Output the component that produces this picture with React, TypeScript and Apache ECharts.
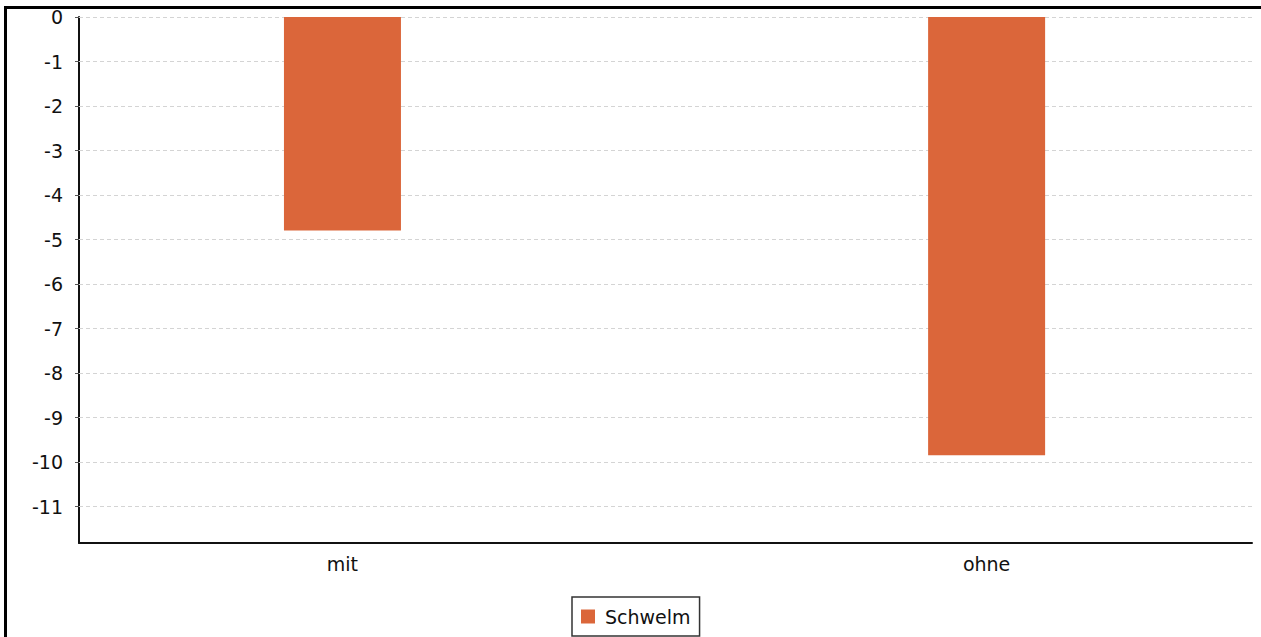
import React, { useEffect, useRef } from "react";
import * as echarts from "echarts";

const categories = ["mit", "ohne"];
const seriesName = "Schwelm";
const values = [-4.8, -9.85];
const yTicks = [0, -1, -2, -3, -4, -5, -6, -7, -8, -9, -10, -11];

export default function App() {
  const ref = useRef<HTMLDivElement>(null);
  useEffect(() => {
    if (!ref.current) return;
    const chart = echarts.init(ref.current, undefined, { renderer: "svg" });
    const font = "DejaVu Sans";
    chart.setOption({
      animation: false,
      backgroundColor: "#ffffff",
      textStyle: { fontFamily: font },
      grid: { left: 79, right: 9, top: 17, bottom: 94, containLabel: false },
      xAxis: {
        type: "value",
        min: -0.409,
        max: 1.412,
        axisLine: { onZero: false, lineStyle: { color: "#111", width: 2 } },
        axisTick: { show: false },
        splitLine: { show: false },
        axisLabel: {
          customValues: categories.map((_, i) => i),
          formatter: (v: number) => categories[Math.round(v)] ?? "",
          color: "#111",
          fontSize: 19,
          fontFamily: font,
          margin: 11,
        },
      },
      yAxis: {
        type: "value",
        min: -11.82,
        max: 0,
        axisLine: { show: true, onZero: false, lineStyle: { color: "#111", width: 2 } },
        axisTick: {
          show: true,
          length: 4,
          customValues: yTicks,
          lineStyle: { color: "#555", width: 1 },
        },
        axisLabel: {
          customValues: yTicks,
          formatter: (v: number) => String(v),
          color: "#111",
          fontSize: 19,
          fontFamily: font,
          margin: 16,
        },
        splitLine: { show: false },
      },
      series: [
        {
          name: "__grid",
          type: "line",
          silent: true,
          symbol: "none",
          data: [],
          z: 1,
          markLine: {
            silent: true,
            z: 1,
            symbol: ["none", "none"],
            label: { show: false },
            lineStyle: { color: "#d4d4d4", type: [4, 3], width: 1 },
            data: yTicks.map((t) => ({ yAxis: t })),
          },
        },
        {
          name: seriesName,
          type: "bar",
          barWidth: 117,
          itemStyle: { color: "#DB663A" },
          data: values.map((v, i) => [i, v]),
          z: 10,
        },
      ],
      legend: {
        data: [seriesName],
        bottom: 1,
        left: 572,
        orient: "horizontal",
        borderColor: "#333",
        borderWidth: 1.5,
        borderRadius: 0,
        padding: [10, 9, 10, 9],
        itemWidth: 14,
        itemHeight: 14,
        itemGap: 8,
        icon: "rect",
        textStyle: { fontSize: 19, color: "#111", fontFamily: font, padding: [0, 0, 0, 5] },
      },
      graphic: [
        {
          type: "line",
          shape: { x1: 4, y1: 7.5, x2: 1261, y2: 7.5 },
          style: { stroke: "#000", lineWidth: 3 },
          silent: true,
        },
        {
          type: "line",
          shape: { x1: 5.5, y1: 6, x2: 5.5, y2: 637 },
          style: { stroke: "#000", lineWidth: 3 },
          silent: true,
        },
      ],
    });
    return () => chart.dispose();
  }, []);
  return (
    <div
      ref={ref}
      style={{ position: "fixed", left: 0, top: 0, width: 1261, height: 637 }}
    />
  );
}
